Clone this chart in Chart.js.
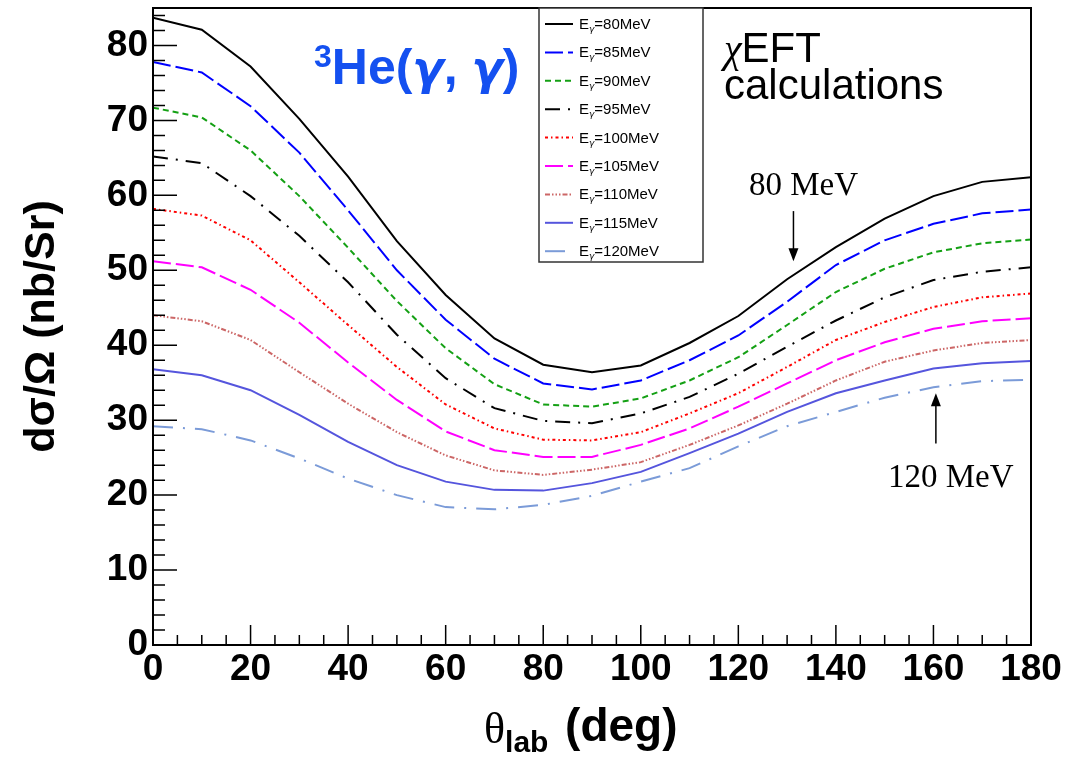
<!DOCTYPE html>
<html>
<head>
<meta charset="utf-8">
<script src="https://cdn.jsdelivr.net/npm/chart.js@4.4.1/dist/chart.umd.min.js"></script>
<style>
  html, body { margin: 0; padding: 0; background: #fff; }
  #wrap { width: 1073px; height: 761px; }
</style>
</head>
<body>
<div id="wrap"><canvas id="chart" width="1073" height="761"></canvas></div>
<script>
// --- DATA ---
const theta = [0, 10, 20, 30, 40, 50, 60, 70, 80, 90, 100, 110, 120, 130, 140, 150, 160, 170, 180];
const energies = [80, 85, 90, 95, 100, 105, 110, 115, 120];
const yTickValues = [0, 10, 20, 30, 40, 50, 60, 70, 80];

const e80  = [83.7, 82.1, 77.2, 70.2, 62.5, 53.9, 46.7, 40.9, 37.4, 36.4, 37.3, 40.3, 43.9, 48.8, 53.1, 56.9, 59.9, 61.8, 62.4];
const e85  = [77.8, 76.4, 71.9, 65.7, 58.0, 50.0, 43.4, 38.2, 34.9, 34.1, 35.3, 38.0, 41.3, 45.8, 50.7, 54.0, 56.2, 57.6, 58.1];
const e90  = [71.7, 70.4, 66.0, 59.9, 53.0, 45.9, 39.6, 34.8, 32.1, 31.8, 32.9, 35.3, 38.4, 42.7, 47.1, 50.2, 52.4, 53.6, 54.1];
const e95  = [65.2, 64.3, 59.9, 54.6, 48.4, 41.4, 35.6, 31.6, 29.9, 29.6, 30.9, 33.1, 36.2, 39.8, 43.3, 46.4, 48.7, 49.8, 50.4];
const e100 = [58.2, 57.3, 54.0, 48.4, 42.7, 37.1, 32.1, 28.9, 27.4, 27.3, 28.4, 30.9, 33.6, 37.1, 40.7, 43.1, 45.1, 46.4, 46.9];
const e105 = [51.2, 50.4, 47.4, 43.0, 37.7, 32.7, 28.5, 26.0, 25.1, 25.1, 26.7, 28.9, 31.8, 34.9, 38.0, 40.4, 42.2, 43.2, 43.6];
const e110 = [44.0, 43.2, 40.7, 36.4, 32.2, 28.4, 25.3, 23.3, 22.7, 23.4, 24.4, 26.7, 29.3, 32.2, 35.3, 37.8, 39.3, 40.3, 40.7];
const e115 = [36.8, 36.0, 34.0, 30.7, 27.1, 24.0, 21.8, 20.7, 20.6, 21.6, 23.1, 25.6, 28.2, 31.1, 33.6, 35.3, 36.9, 37.6, 37.9];
const e120 = [29.2, 28.8, 27.3, 24.9, 22.2, 20.0, 18.4, 18.1, 18.7, 19.9, 21.8, 23.6, 26.5, 29.2, 31.1, 33.0, 34.4, 35.2, 35.4];

const series = [e80, e85, e90, e95, e100, e105, e110, e115, e120];

// --- STYLES ---
const lineColors = ['#000000', '#0000ff', '#14a014', '#000000', '#ff0000', '#ff00ff', '#cc6666', '#5555dd', '#7b9bd8'];
const lineDashes = [
    [],
    [18, 5],
    [6, 4],
    [15, 8, 2, 8],
    [3, 3, 1.5, 3],
    [18, 5],
    [5, 2, 1.5, 2, 1.5, 2, 1.5, 2],
    [],
    [20, 10, 2, 10]
];

const FRAME = '#000';
const SANS = '"Liberation Sans", Arial, Helvetica, sans-serif';
const SERIF = '"Liberation Serif", "Times New Roman", serif';
const GREEK = '"DejaVu Sans", sans-serif';

// --- DATASETS ---
const datasets = series.map((vals, i) => ({
    label: 'E\u03b3=' + energies[i] + 'MeV',
    data: theta.map((t, k) => ({ x: t, y: vals[k] })),
    borderColor: lineColors[i],
    borderDash: lineDashes[i],
    borderWidth: 2,
    pointRadius: 0,
    tension: 0,
    fill: false
}));

// draw a run of [text, font, dy] pieces left to right
function drawRun(ctx, x, y, parts) {
    parts.forEach(([txt, font, dy]) => {
        ctx.font = font;
        ctx.fillText(txt, x, y + (dy || 0));
        x += ctx.measureText(txt).width;
    });
    return x;
}

// --- ROOT-style frame, inner ticks, titles, legend, notes ---
const decorPlugin = {
    id: 'decor',
    afterDatasetsDraw(chart) {
        const { ctx, chartArea: a, scales } = chart;
        const xs = scales.x, ys = scales.y;
        ctx.save();

        // inner tick marks
        ctx.strokeStyle = FRAME;
        ctx.lineWidth = 1.5;
        ctx.beginPath();
        for (let v = 0; v <= 180; v += 5) {
            const px = xs.getPixelForValue(v);
            const len = v % 20 === 0 ? 20 : 10;
            ctx.moveTo(px, a.bottom);
            ctx.lineTo(px, a.bottom - len);
        }
        for (let v = 0; v <= 84; v += 2) {
            const py = ys.getPixelForValue(v);
            const len = v % 10 === 0 ? 24 : 12;
            ctx.moveTo(a.left, py);
            ctx.lineTo(a.left + len, py);
        }
        ctx.stroke();

        // frame
        ctx.lineWidth = 2;
        ctx.strokeRect(a.left, a.top, a.right - a.left, a.bottom - a.top);

        // legend box
        const lx0 = 539, lx1 = 703, ly0 = a.top, ly1 = 262;
        ctx.fillStyle = '#fff';
        ctx.fillRect(lx0, ly0, lx1 - lx0, ly1 - ly0);
        ctx.strokeStyle = '#333';
        ctx.lineWidth = 1.5;
        ctx.strokeRect(lx0, ly0, lx1 - lx0, ly1 - ly0);
        ctx.textBaseline = 'alphabetic';
        ctx.textAlign = 'left';
        chart.data.datasets.forEach((ds, i) => {
            const yy = 24 + i * 28.4;
            ctx.save();
            ctx.strokeStyle = ds.borderColor;
            ctx.lineWidth = 2;
            ctx.setLineDash(ds.borderDash);
            ctx.beginPath();
            ctx.moveTo(545, yy);
            ctx.lineTo(573, yy);
            ctx.stroke();
            ctx.restore();
            ctx.fillStyle = '#000';
            drawRun(ctx, 579, yy + 5, [
                ['E', '15px ' + SANS, 0],
                ['\u03b3', 'oblique 9px ' + GREEK, 3],
                ['=' + energies[i] + 'MeV', '15px ' + SANS, 0]
            ]);
        });

        // reaction title
        ctx.fillStyle = '#1450f0';
        drawRun(ctx, 314, 84, [
            ['3', 'bold 32px ' + SANS, -17],
            ['He(', 'bold 50px ' + SANS, 0],
            ['\u03b3', 'bold oblique 46px ' + GREEK, 0],
            [', ', 'bold 50px ' + SANS, 0],
            ['\u03b3', 'bold oblique 46px ' + GREEK, 0],
            [')', 'bold 50px ' + SANS, 0]
        ]);

        // chiEFT note
        ctx.fillStyle = '#000';
        drawRun(ctx, 724, 62, [
            ['\u03c7', 'italic 40px ' + SERIF, 0],
            ['EFT', '42px ' + SANS, 0]
        ]);
        ctx.font = '42px ' + SANS;
        ctx.fillText('calculations', 724, 99);

        // energy arrows, anchored in data units
        const arrow = (xv, yFrom, yTo) => {
            const px = xs.getPixelForValue(xv);
            const p0 = ys.getPixelForValue(yFrom);
            const p1 = ys.getPixelForValue(yTo);
            const dir = p1 > p0 ? 1 : -1;
            ctx.strokeStyle = '#000';
            ctx.lineWidth = 1.5;
            ctx.beginPath();
            ctx.moveTo(px, p0);
            ctx.lineTo(px, p1 - dir * 10);
            ctx.stroke();
            ctx.fillStyle = '#000';
            ctx.beginPath();
            ctx.moveTo(px, p1);
            ctx.lineTo(px - 5, p1 - dir * 13);
            ctx.lineTo(px + 5, p1 - dir * 13);
            ctx.closePath();
            ctx.fill();
        };
        arrow(131.3, 57.9, 51.2);
        arrow(160.5, 26.9, 33.6);
        ctx.font = '33px ' + SERIF;
        ctx.fillStyle = '#000';
        ctx.fillText('80 MeV', 749, 195);
        ctx.fillText('120 MeV', 888, 487);

        // y axis title
        ctx.save();
        ctx.translate(42, (a.top + a.bottom) / 2);
        ctx.rotate(-Math.PI / 2);
        ctx.textAlign = 'center';
        ctx.textBaseline = 'middle';
        ctx.font = 'bold 43px ' + SANS;
        ctx.fillText('d\u03c3/\u03a9 (nb/Sr)', 0, 0);
        ctx.restore();

        // x axis title with subscript
        ctx.textAlign = 'left';
        ctx.textBaseline = 'alphabetic';
        drawRun(ctx, 484, 743, [
            ['\u03b8', '44px ' + SERIF, 0],
            ['lab', 'bold 30px ' + SANS, 9],
            ['  ', 'bold 30px ' + SANS, 0],
            ['(deg)', 'bold 46px ' + SANS, -2]
        ]);

        ctx.restore();
    }
};

// --- CHART ---
new Chart(document.getElementById('chart').getContext('2d'), {
    type: 'line',
    data: { datasets: datasets },
    options: {
        responsive: false,
        animation: false,
        devicePixelRatio: 1,
        layout: { padding: { left: 0, right: 42, top: 8, bottom: 0 } },
        plugins: { legend: { display: false }, tooltip: { enabled: false } },
        scales: {
            x: {
                type: 'linear',
                min: 0,
                max: 180,
                grid: { display: false, drawTicks: false, tickLength: 0 },
                border: { display: false },
                ticks: {
                    stepSize: 20,
                    padding: 3,
                    color: '#000',
                    font: { family: SANS, size: 37, weight: 'bold' },
                    maxRotation: 0,
                    autoSkip: false
                },
                afterFit(scale) {
                    scale.height = 116;
                    scale.paddingLeft = 0;
                    scale.paddingRight = 0;
                }
            },
            y: {
                type: 'linear',
                min: 0,
                max: 85,
                grid: { display: false, drawTicks: false, tickLength: 0 },
                border: { display: false },
                ticks: {
                    padding: 5,
                    color: '#000',
                    autoSkip: false,
                    font: { family: SANS, size: 37, weight: 'bold' }
                },
                afterBuildTicks(scale) {
                    scale.ticks = yTickValues.map(v => ({ value: v }));
                },
                afterFit(scale) {
                    scale.width = 153;
                    scale.paddingTop = 0;
                    scale.paddingBottom = 0;
                }
            }
        }
    },
    plugins: [decorPlugin]
});
</script>
</body>
</html>
